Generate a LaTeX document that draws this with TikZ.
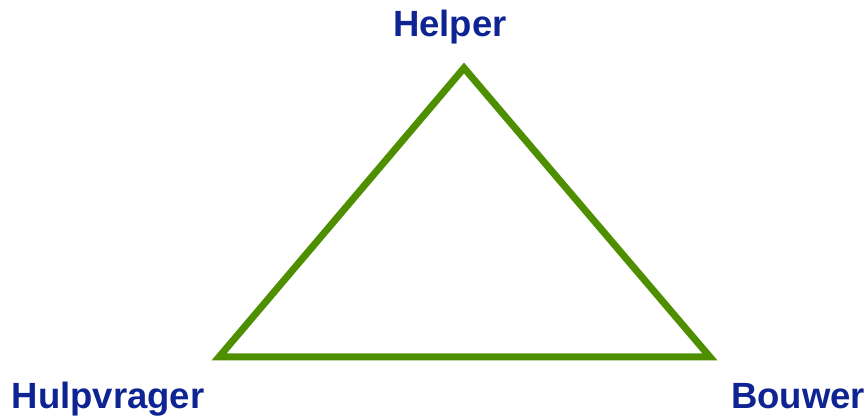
\documentclass[tikz,border=0pt]{standalone}
\usepackage{fontspec}
\setmainfont{Liberation Sans}
\definecolor{tgreen}{RGB}{78,143,0}
\definecolor{tblue}{RGB}{14,36,146}
\begin{document}
\begin{tikzpicture}[x=1pt,y=-1pt,
  lbl/.style={text=tblue,font=\fontsize{36.5}{40}\selectfont\bfseries,inner sep=0pt,anchor=base},
  edge/.style={draw=tgreen,line width=7pt,line join=miter}]
\useasboundingbox (0,0) rectangle (868,419);
\coordinate (t) at (464,68);
\coordinate (l) at (219,357);
\coordinate (r) at (710,357);
\draw[edge] (t) -- (r) -- (l) -- cycle;
\node[lbl] (helper) at (450,37) {Helper};
\node[lbl] (hulp) at (108,409) {Hulpvrager};
\node[lbl] (bouwer) at (798,409) {Bouwer};
\end{tikzpicture}
\end{document}
